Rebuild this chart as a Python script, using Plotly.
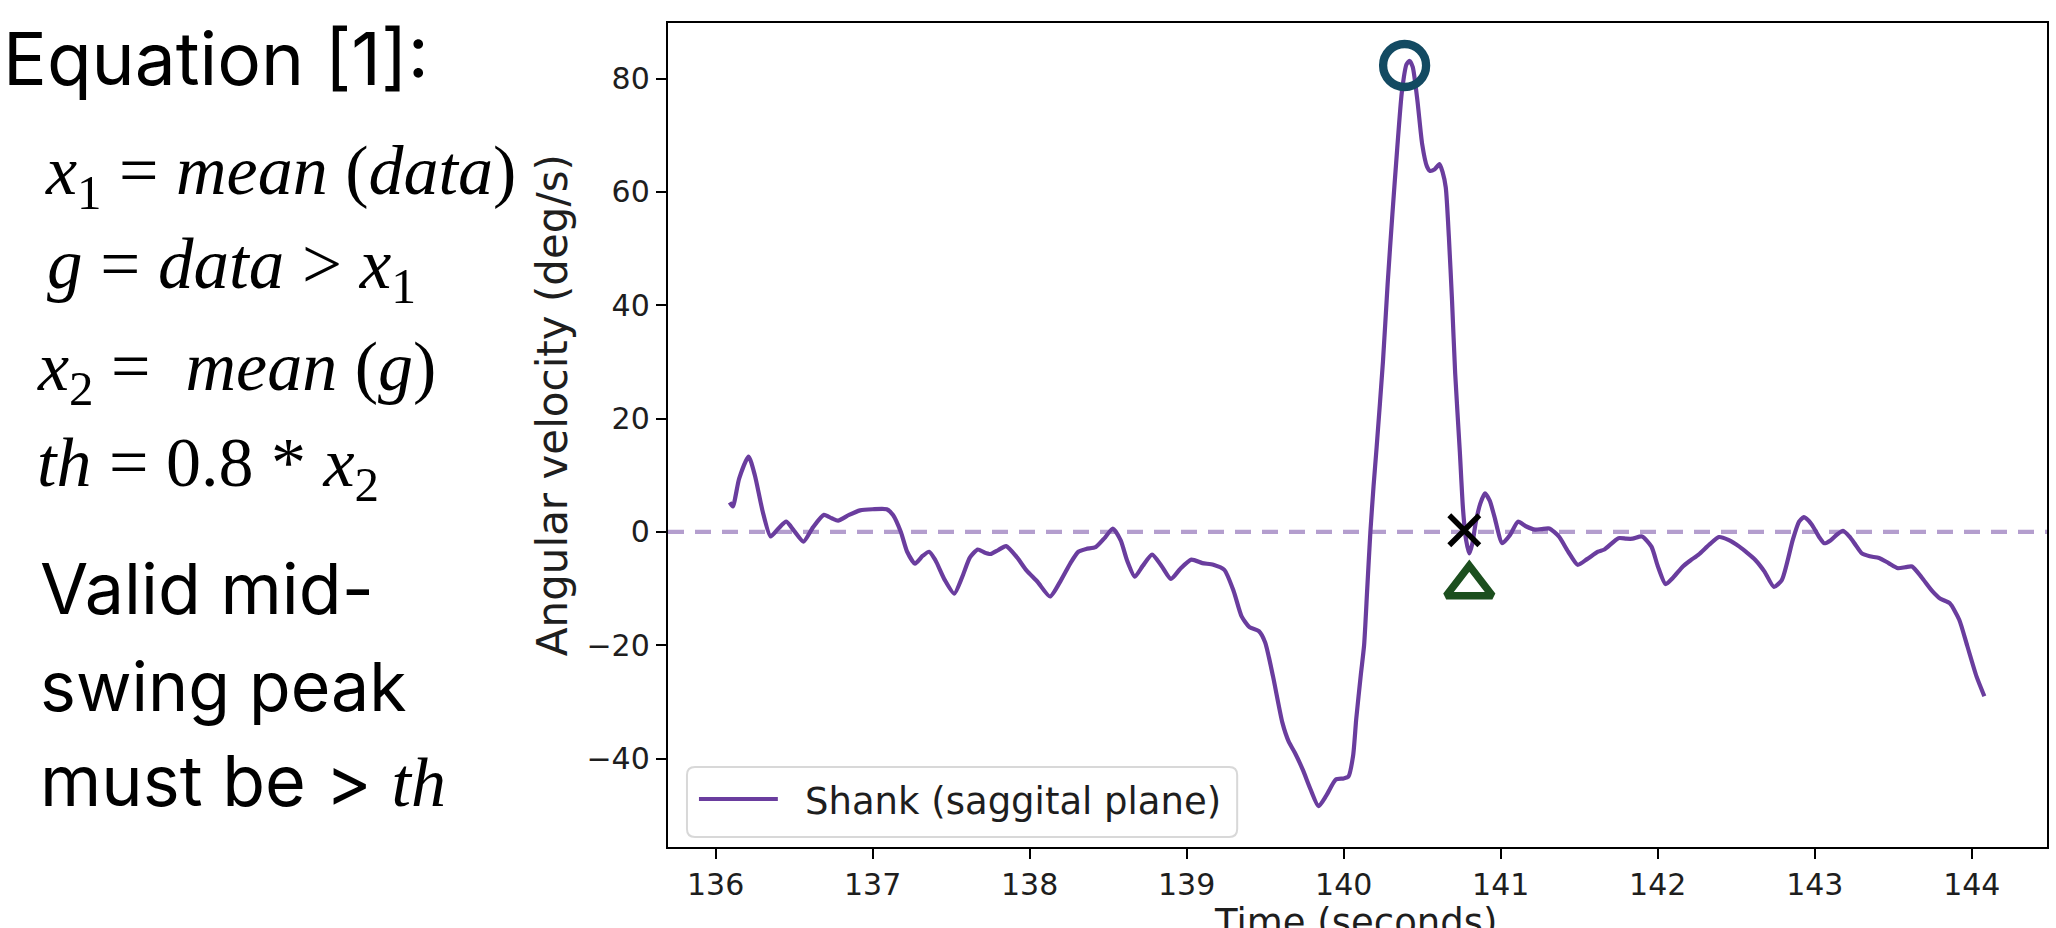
import plotly.graph_objects as go

# ---------------- data ----------------
time_s = [136.09, 136.11, 136.15, 136.21, 136.25, 136.30, 136.35, 136.40, 136.45, 136.50,
          136.56, 136.62, 136.69, 136.74, 136.78, 136.85, 136.92, 137.00, 137.09, 137.13,
          137.18, 137.22, 137.27, 137.32, 137.36, 137.40, 137.46, 137.52, 137.57, 137.62,
          137.67, 137.71, 137.75, 137.80, 137.85, 137.92, 137.98, 138.05, 138.13, 138.20,
          138.26, 138.31, 138.36, 138.42, 138.48, 138.53, 138.58, 138.62, 138.67, 138.72,
          138.78, 138.84, 138.90, 138.96, 139.03, 139.10, 139.17, 139.24, 139.30, 139.35,
          139.40, 139.46, 139.50, 139.55, 139.61, 139.65, 139.69, 139.74, 139.79, 139.84,
          139.89, 139.95, 140.00, 140.03, 140.06, 140.08, 140.11, 140.13, 140.15, 140.17,
          140.19, 140.21, 140.25, 140.28, 140.31, 140.34, 140.37, 140.40, 140.42, 140.44,
          140.47, 140.50, 140.53, 140.55, 140.58, 140.61, 140.63, 140.65, 140.67, 140.69,
          140.71, 140.74, 140.76, 140.78, 140.80, 140.82, 140.84, 140.87, 140.90, 140.93,
          140.96, 141.01, 141.06, 141.11, 141.16, 141.22, 141.26, 141.31, 141.37, 141.43,
          141.49, 141.55, 141.62, 141.66, 141.75, 141.80, 141.84, 141.90, 141.96, 142.00,
          142.05, 142.10, 142.16, 142.21, 142.26, 142.33, 142.39, 142.45, 142.52, 142.57,
          142.62, 142.68, 142.74, 142.79, 142.86, 142.90, 142.93, 142.96, 142.99, 143.03,
          143.06, 143.10, 143.14, 143.18, 143.22, 143.26, 143.30, 143.35, 143.41, 143.47,
          143.53, 143.58, 143.62, 143.68, 143.75, 143.80, 143.86, 143.92, 143.97, 144.03,
          144.08]
ang_vel = [5.2, 4.5, 9.4, 13.3, 10.0, 3.6, -0.8, 0.6, 1.8, 0.2,
           -1.7, 0.8, 3.0, 2.4, 2.0, 3.0, 3.8, 4.0, 4.0, 3.0,
           0.0, -3.5, -5.6, -4.2, -3.5, -5.0, -8.5, -10.9, -8.0, -4.5,
           -3.1, -3.6, -3.9, -3.2, -2.5, -4.5, -6.8, -8.8, -11.4, -8.5,
           -5.5, -3.5, -3.0, -2.7, -1.0, 0.6, -1.5, -5.0, -7.9, -6.0,
           -4.0, -6.0, -8.3, -6.5, -4.9, -5.5, -5.8, -6.7, -10.5, -14.9,
           -16.8, -17.5, -19.5, -25.5, -33.7, -37.0, -39.0, -42.0, -45.5, -48.4,
           -46.5, -43.7, -43.5, -43.2, -39.5, -33.0, -25.0, -20.0, -10.0, 0.0,
           8.0, 15.0, 30.0, 43.8, 56.0, 67.3, 77.5, 82.5, 83.1, 82.0,
           76.0, 68.4, 64.5, 63.7, 64.0, 64.9, 63.5, 60.8, 52.0, 40.8,
           28.0, 14.0, 4.0, -1.5, -3.8, -2.0, 1.5, 5.0, 6.8, 5.5,
           2.7, -2.0, -0.5, 1.8, 1.0, 0.4, 0.5, 0.6, -0.8, -3.5,
           -5.8, -4.8, -3.5, -3.1, -1.1, -1.2, -1.2, -0.8, -2.6, -6.0,
           -9.2, -8.0, -6.1, -5.0, -4.0, -2.2, -0.9, -1.4, -2.6, -3.7,
           -4.9, -7.0, -9.7, -8.5, -1.4, 1.8, 2.6, 2.0, 0.9, -1.0,
           -2.0, -1.5, -0.5, 0.2, -0.8, -2.3, -3.8, -4.3, -4.6, -5.5,
           -6.4, -6.2, -6.1, -8.0, -10.5, -11.8, -12.6, -15.5, -20.0, -25.5,
           -29.0]

peak_t, peak_v = [140.388], [82.3]         # mid-swing peak (circle)
cross_t, cross_v = [140.768], [0.3]        # zero crossing (x)
event_t, event_v = [140.80], [-9.5]        # event marker (triangle)
zero_level = 0

x_ticks = [136, 137, 138, 139, 140, 141, 142, 143, 144]
y_ticks = [-40, -20, 0, 20, 40, 60, 80]
x_range = [135.697, 144.479]
y_range = [-55.6, 89.8]
series_name = "Shank (saggital plane)"

# ---------------- layout geometry (pixels) ----------------
W, H = 2056, 928
L, R, T, B = 668, 2049, 23, 847


def px(xp):
    return (xp - L) / (R - L)


def py(yp):
    return (B - yp) / (B - T)


LINE_COLOR = "#6a3d9e"
TEXT_COLOR = "#1e1e1e"
TICK_FONT = dict(family="DejaVu Sans", size=30, color=TEXT_COLOR)

fig = go.Figure()
fig.add_trace(go.Scatter(x=time_s, y=ang_vel, mode="lines", name=series_name,
                         line=dict(color=LINE_COLOR, width=4.2, shape="spline", smoothing=0.6),
                         showlegend=False))
fig.add_trace(go.Scatter(x=peak_t, y=peak_v, mode="markers", showlegend=False,
                         marker=dict(symbol="circle-open", size=43, color="#134a62",
                                     line=dict(width=8.3, color="#134a62"))))
fig.add_trace(go.Scatter(x=cross_t, y=cross_v, mode="markers", showlegend=False,
                         marker=dict(symbol="x-thin-open", size=30, color="black",
                                     line=dict(width=5.5, color="black"))))
fig.add_trace(go.Scatter(x=event_t, y=event_v, mode="markers", showlegend=False,
                         marker=dict(symbol="triangle-up-open", size=40, color="#1c4f1e",
                                     line=dict(width=7.5, color="#1c4f1e"))))

# dashed zero reference line
fig.add_shape(type="line", xref="paper", yref="y", x0=0, x1=1, y0=zero_level, y1=zero_level,
              line=dict(color="rgba(106,61,158,0.5)", width=4.2, dash="16px,11px"), layer="below")

axis_common = dict(showline=True, mirror=True, linecolor="black", linewidth=2.4,
                   ticks="outside", ticklen=10, tickwidth=2.4, tickcolor="black",
                   showgrid=False, zeroline=False, tickfont=TICK_FONT)

fig.update_xaxes(range=x_range, tickvals=x_ticks, ticktext=[str(v) for v in x_ticks], **axis_common)
fig.update_yaxes(range=y_range, tickvals=y_ticks,
                 ticktext=[str(v).replace("-", "\u2212") for v in y_ticks], **axis_common)

# axis titles (placed as text so they can sit exactly where the reference has them;
# the x title is partly cut by the bottom edge, as in the reference)
fig.add_annotation(text="Time (seconds)", xref="paper", yref="paper",
                   x=px(1356), y=py(922), xanchor="center", yanchor="middle", showarrow=False,
                   font=dict(family="DejaVu Sans", size=37, color=TEXT_COLOR))
fig.add_annotation(text="Angular velocity (deg/s)", xref="paper", yref="paper",
                   x=px(552), y=py(405), xanchor="center", yanchor="middle",
                   textangle=-90, showarrow=False,
                   font=dict(family="DejaVu Sans", size=42, color=TEXT_COLOR))

# ---------------- legend box (matplotlib style, rounded) ----------------
bx0, bx1, by0, by1, rad = 687, 1238, 767, 837, 8
x0p, x1p = px(bx0), px(bx1)
y0p, y1p = py(by1), py(by0)
rxp, ryp = rad / (R - L), rad / (B - T)
legend_path = (f"M {x0p + rxp},{y0p} L {x1p - rxp},{y0p} Q {x1p},{y0p} {x1p},{y0p + ryp} "
               f"L {x1p},{y1p - ryp} Q {x1p},{y1p} {x1p - rxp},{y1p} "
               f"L {x0p + rxp},{y1p} Q {x0p},{y1p} {x0p},{y1p - ryp} "
               f"L {x0p},{y0p + ryp} Q {x0p},{y0p} {x0p + rxp},{y0p} Z")
fig.add_shape(type="path", xref="paper", yref="paper", path=legend_path,
              fillcolor="rgba(255,255,255,0.8)", line=dict(color="#d8d8d8", width=2), layer="above")
fig.add_shape(type="line", xref="paper", yref="paper", x0=px(699), x1=px(778),
              y0=py(799), y1=py(799), line=dict(color=LINE_COLOR, width=4.2), layer="above")
fig.add_annotation(text=series_name, xref="paper", yref="paper", x=px(803), y=py(801),
                   xanchor="left", yanchor="middle", showarrow=False,
                   font=dict(family="DejaVu Sans", size=37, color=TEXT_COLOR))

# ---------------- left-hand text ----------------
SANS = "Inter"
SERIF = "Liberation Serif"
notes = [
    ("Equation [1]:", 0, 58, SANS, 73),
    ("<i>x</i><sub>1</sub> = <i>mean</i> (<i>data</i>)", 42, 176, SERIF, 70),
    ("<i>g</i> = <i>data</i> > <i>x</i><sub>1</sub>", 44, 269, SERIF, 71),
    ("<i>x</i><sub>2</sub> =  <i>mean</i> (<i>g</i>)", 34, 372, SERIF, 70),
    ("<i>th</i> = 0.8 * <i>x</i><sub>2</sub>", 34, 468, SERIF, 70),
    ("Valid mid-", 37, 588, SANS, 70),
    ("swing peak", 37, 686, SANS, 68),
    ('must be > <span style="font-family:Liberation Serif"><i>th</i></span>', 37, 780, SANS, 70),
]
for txt, x0, yc, fam, size in notes:
    fig.add_annotation(text=txt, xref="paper", yref="paper", x=px(x0), y=py(yc),
                       xanchor="left", yanchor="middle", showarrow=False,
                       font=dict(family=fam, size=size, color="black"))

fig.update_layout(
    width=W, height=H, autosize=False,
    margin=dict(l=L, r=W - R, t=T, b=H - B, pad=0),
    paper_bgcolor="white", plot_bgcolor="white",
    showlegend=False,
)

fig.write_html("out.html")
